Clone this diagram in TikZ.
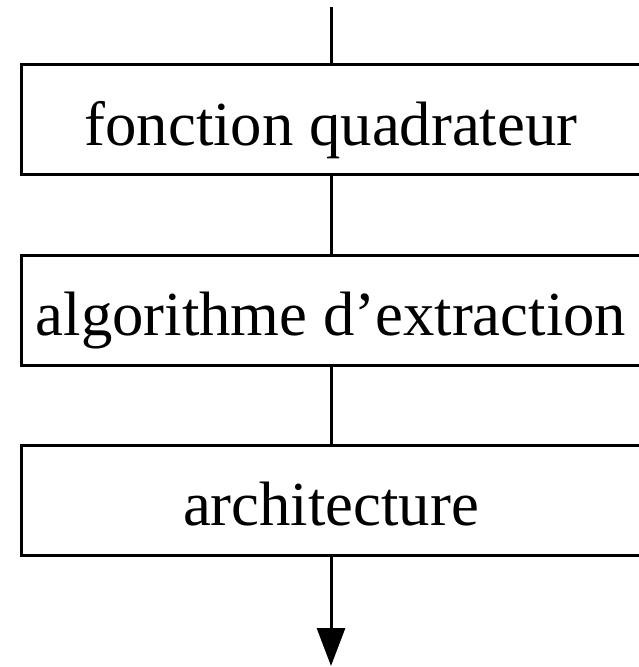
\documentclass[tikz,border=0pt]{standalone}
\usepackage{fontspec}
\setmainfont{Liberation Serif}
\usetikzlibrary{positioning,arrows.meta}

\begin{document}
\begin{tikzpicture}[x=1pt, y=-1pt, line width=3pt,
		etape/.style={rectangle, draw, minimum width=619pt, minimum height=110pt,
			text height=51pt, text depth=0pt, font=\fontsize{62.7}{70}\selectfont}]
				\useasboundingbox (0, 0) rectangle (639, 667);
				\coordinate (E) at (331, 7);
				\node[etape] (F) at (331, 119.5) {fonction quadrateur};
				\node[etape] (A) at (331, 310) {algorithme d’extraction};
				\node[etape] (R) at (331, 500) {architecture};
				\coordinate (S) at (331, 666);
				\draw (E) -- (F);
				\draw (F) -- (A);
				\draw (A) -- (R);
				\draw[-{Triangle[length=38pt, width=28pt]}] (R) -- (S);
			\end{tikzpicture}
\end{document}
